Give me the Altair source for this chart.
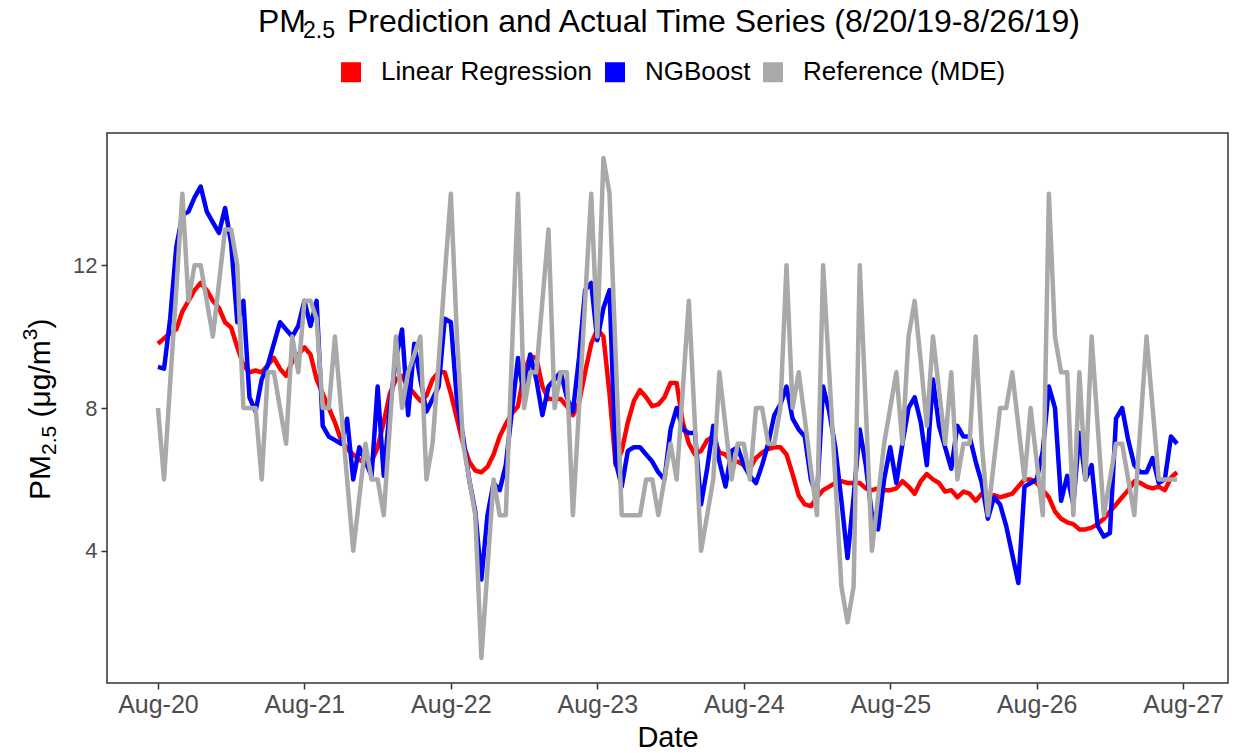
import altair as alt
import pandas as pd

# ---------------- data (hourly, Aug-20 00:00 .. Aug-26 23:00) ----------------
hours = list(range(168))
day_ticks = [0, 24, 48, 72, 96, 120, 144, 168]
day_labels = ["Aug-20", "Aug-21", "Aug-22", "Aug-23", "Aug-24", "Aug-25", "Aug-26", "Aug-27"]
y_ticks = [4, 8, 12]

series_names = ["Linear Regression", "NGBoost", "Reference (MDE)"]
series_colors = ["#FF0000", "#0000FF", "#A9A9A9"]

linear_regression = [
    9.8, 9.95, 10.1, 10.2, 10.7, 11.0, 11.3, 11.5, 11.3, 11.0, 10.8, 10.4,
    10.25, 9.7, 9.2, 9.0, 9.05, 9.0, 9.2, 9.4, 9.1, 8.9, 9.3, 9.5,
    9.7, 9.5, 8.8, 8.4, 8.0, 7.6, 7.1, 6.85, 6.7, 6.55, 6.45, 6.5,
    6.9, 7.6, 8.4, 8.8, 8.9, 8.6, 8.4, 8.2, 8.35, 8.8, 9.0, 9.0,
    8.4, 7.7, 7.0, 6.5, 6.25, 6.2, 6.35, 6.7, 7.2, 7.55, 7.85, 8.05,
    9.0, 9.45, 9.4, 8.6, 8.25, 8.25, 8.25, 8.05, 7.8, 8.15, 9.0, 9.8,
    10.2, 10.0, 8.4, 6.4, 6.8, 7.6, 8.2, 8.5, 8.3, 8.05, 8.1, 8.3,
    8.7, 8.7, 7.6, 7.0, 6.7, 6.8, 7.1, 7.2, 6.75, 6.7, 6.5, 6.5,
    6.4, 6.3, 6.6, 6.75, 6.85, 6.9, 6.9, 6.7, 6.15, 5.55, 5.3, 5.25,
    5.5, 5.7, 5.8, 5.9, 5.95, 5.9, 5.9, 5.9, 5.75, 5.7, 5.75, 5.7,
    5.7, 5.75, 5.95, 5.8, 5.6, 5.95, 6.15, 6.0, 5.9, 5.66, 5.7, 5.5,
    5.66, 5.6, 5.4, 5.6, 5.5, 5.56, 5.5, 5.55, 5.6, 5.8, 6.0, 6.0,
    5.9, 5.7, 5.5, 5.1, 4.9, 4.8, 4.75, 4.6, 4.6, 4.65, 4.75, 4.9,
    5.1, 5.3, 5.5, 5.7, 5.95, 5.9, 5.8, 5.75, 5.8, 5.7, 6.05, 6.2,
]

ngboost = [
    9.15, 9.1, 10.5, 12.5, 13.4, 13.5, 13.9, 14.2, 13.5, 13.2, 12.9, 13.6,
    12.6, 10.4, 11.0, 8.3, 7.9, 8.8, 9.2, 9.8, 10.4, 10.2, 10.0, 10.3,
    11.0, 10.3, 11.0, 7.5, 7.2, 7.1, 7.0, 7.7, 6.0, 6.9, 6.5, 6.1,
    8.6, 6.1, 8.0, 9.4, 10.2, 7.8, 9.8, 8.8, 7.9, 8.25, 8.6, 10.5,
    10.4, 8.2, 7.2, 6.0, 5.1, 3.2, 5.0, 5.9, 5.7, 6.4, 7.9, 9.4,
    8.3, 9.5, 8.8, 7.8, 8.6, 8.8, 9.0, 8.3, 7.9, 9.4, 11.3, 11.5,
    9.9, 10.8, 11.3, 6.5, 5.8, 6.8, 6.9, 6.9, 6.7, 6.5, 6.2, 6.0,
    7.4, 8.0, 7.4, 7.3, 7.3, 5.3, 6.3, 7.5, 6.5, 5.8, 6.8, 6.9,
    6.4, 6.1, 5.9, 6.4, 7.0, 7.8, 8.1, 8.6, 7.7, 7.4, 7.2, 6.0,
    5.5, 8.6, 7.9, 6.9, 5.4, 3.8, 5.5, 7.4, 6.4, 5.0, 4.6, 6.0,
    6.9, 5.9, 7.0, 8.0, 8.3, 7.6, 6.4, 8.8, 7.5, 6.9, 6.3, 7.5,
    7.2, 7.2, 6.5, 5.9, 4.9, 5.5, 5.3, 4.7, 3.9, 3.1, 5.8, 5.9,
    6.0, 6.8, 8.6, 8.0, 5.4, 6.1, 5.3, 7.3, 6.0, 6.4, 4.7, 4.4,
    4.5, 7.7, 8.0, 7.1, 6.4, 6.2, 6.2, 6.6, 5.9, 6.0, 7.2, 7.0,
]

reference_mde = [
    8, 6, 8.7, 11.3, 14, 11, 12, 12, 11, 10, 11.5, 13,
    13, 12, 8, 8, 8, 6, 9, 9, 8, 7, 10, 9,
    11, 11, 10.5, 8, 8, 10, 8, 6, 4, 5.5, 7, 6,
    6, 5, 7.5, 10, 8, 9, 9.5, 10, 6, 7, 9.3, 11.7,
    14, 10, 7, 6, 5, 1, 3.5, 6, 5, 5, 9.5, 14,
    8, 9, 9, 11, 13, 8, 9, 9, 5, 8, 11, 14,
    10, 15, 14, 9.5, 5, 5, 5, 5, 6, 6, 5, 6,
    7, 6, 8.5, 11, 7.5, 4, 5, 6, 9, 7.5, 6, 7,
    7, 6, 8, 8, 7, 7, 8, 12, 8, 9, 7.7, 6.3,
    5, 12, 9, 6, 3, 2, 3, 12, 8, 4, 5.5, 7,
    8, 9, 7, 10, 11, 9.3, 7.5, 10, 8.5, 7, 9, 6,
    7, 7, 10, 7, 5, 6.5, 8, 8, 9, 7.5, 6, 8,
    6.5, 5, 14, 10, 9, 9, 5, 9, 6, 10, 7.5, 5,
    6, 7, 7, 6, 5, 7.5, 10, 8, 6, 6, 6, 6,
]

title_parts = ["PM", "2.5", "Prediction and Actual Time Series (8/20/19-8/26/19)"]
ytitle_parts = ["PM", "2.5", "(\u03bcg/m", "3", ")"]

rows = []
for name, vals in zip(series_names, [linear_regression, ngboost, reference_mde]):
    for h, v in zip(hours, vals):
        rows.append({"hour": h, "value": v, "series": name})
df = pd.DataFrame(rows)

FONT = "Liberation Sans"
label_expr = "[" + ",".join("'%s'" % d for d in day_labels) + "][round(datum.value / 24)]"

lines = alt.Chart(df).mark_line(
    strokeWidth=4.5, strokeJoin="round", strokeCap="butt"
).encode(
    x=alt.X(
        "hour:Q",
        scale=alt.Scale(domain=[-8.35, 175.35], nice=False, zero=False),
        axis=alt.Axis(
            values=day_ticks, labelExpr=label_expr, title="Date", grid=False, domain=False,
            tickSize=6, tickWidth=1.5, tickColor="#333333",
            labelFontSize=25, labelColor="#4D4D4D", labelPadding=3, labelFont=FONT,
            titleFontSize=29, titleColor="black", titleFontWeight="normal", titlePadding=6,
            titleFont=FONT,
        ),
    ),
    y=alt.Y(
        "value:Q",
        scale=alt.Scale(domain=[0.3, 15.7], nice=False, zero=False),
        axis=alt.Axis(
            values=y_ticks, title=None, grid=False, domain=False,
            tickSize=6, tickWidth=1.5, tickColor="#333333",
            labelFontSize=22, labelColor="#4D4D4D", labelPadding=4, labelFont=FONT,
        ),
    ),
    color=alt.Color(
        "series:N",
        scale=alt.Scale(domain=series_names, range=series_colors),
        legend=alt.Legend(
            orient="none", legendX=231, legendY=-74, direction="horizontal", title=None,
            symbolType="square", symbolSize=81, symbolStrokeWidth=11,
            labelFontSize=26, labelFont=FONT, labelColor="black", labelLimit=500,
            labelOffset=17, columnPadding=-5,
        ),
    ),
)


def txt(s, x, y, size, angle=0):
    return alt.Chart(pd.DataFrame({"t": [s]})).mark_text(
        font=FONT, fontSize=size, align="left", baseline="alphabetic", color="black", angle=angle
    ).encode(text="t:N", x=alt.value(x), y=alt.value(y))


title_layers = [
    txt(title_parts[0], 151, -101, 32),
    txt(title_parts[1], 196, -95, 23),
    txt(title_parts[2], 240, -101, 32),
]

ytitle_layers = [
    txt(ytitle_parts[0], -57, 367, 30, 270),
    txt(ytitle_parts[1], -51, 322, 21, 270),
    txt(ytitle_parts[2], -57, 284.5, 30, 270),
    txt(ytitle_parts[3], -70, 207.2, 21, 270),
    txt(ytitle_parts[4], -57, 195.5, 30, 270),
]

chart = alt.layer(lines, *title_layers, *ytitle_layers).properties(
    width=1121, height=550,
    autosize=alt.AutoSizeParams(type="none"),
    padding={"left": 107, "top": 133, "right": 6, "bottom": 70},
).configure(
    font=FONT, background="white"
).configure_view(
    stroke="#333333", strokeWidth=1.5
)

chart.save("out.html", embed_options={"renderer": "svg", "actions": False})
